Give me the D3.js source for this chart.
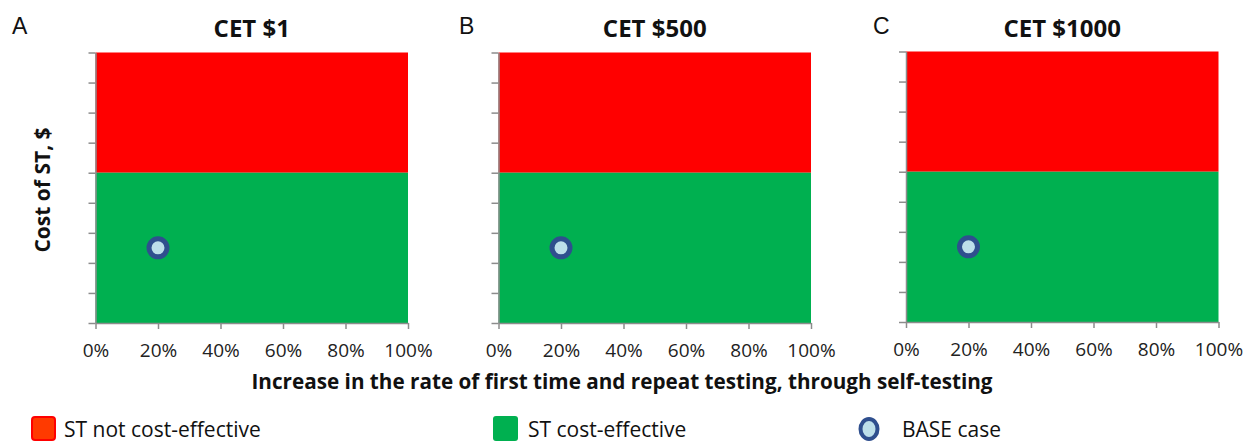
<!DOCTYPE html>
<html>
<head>
<meta charset="utf-8">
<script src="https://cdn.jsdelivr.net/npm/d3@7"></script>
<style>
  html, body { margin: 0; padding: 0; background: #fff; }
  svg { display: block; }
</style>
</head>
<body>
<svg id="chart" width="1245" height="443"></svg>
<script>
// ---- data ----
const panelLetters = ["A", "B", "C"];
const panelTitles = ["CET $1", "CET $500", "CET $1000"];
const xTicks = [0, 0.2, 0.4, 0.6, 0.8, 1.0];
const yTicks = [0, 1, 2, 3, 4, 5, 6, 7, 8, 9];   // unlabelled cost ticks
const yMax = [9, 9, 9];
const costEffectiveUpTo = [5, 5, 5];               // green region top (cost units)
const baseCaseX = [0.2, 0.2, 0.2];
const baseCaseY = [2.5, 2.5, 2.5];
const legendLabels = ["ST not cost-effective", "ST cost-effective", "BASE case"];
const xAxisTitle = "Increase in the rate of first time and repeat testing, through self-testing";
const yAxisTitle = "Cost of ST, $";

// ---- layout / style ----
const layout = {
  lefts: [95.5, 498.5, 906],
  tops: [52.5, 52.5, 51.5],
  letterX: [12, 459, 873],
  width: 312.5,
  height: 270.5
};
const RED = "#ff0000", GREEN = "#00b050", AXIS = "#8c8c8c";
const DOT_FILL = "#bddfea", DOT_STROKE = "#2f4f8e";

const svg = d3.select("#chart");

panelLetters.forEach((letter, i) => {
  const left = layout.lefts[i], top = layout.tops[i];
  const x = d3.scaleLinear().domain([0, 1]).range([left, left + layout.width]);
  const y = d3.scaleLinear().domain([0, yMax[i]]).range([top + layout.height, top]);
  const g = svg.append("g");

  // regions
  g.append("rect")
    .attr("x", x(0)).attr("y", y(yMax[i]))
    .attr("width", x(1) - x(0)).attr("height", y(costEffectiveUpTo[i]) - y(yMax[i]))
    .attr("fill", RED);
  g.append("rect")
    .attr("x", x(0)).attr("y", y(costEffectiveUpTo[i]))
    .attr("width", x(1) - x(0)).attr("height", y(0) - y(costEffectiveUpTo[i]))
    .attr("fill", GREEN);

  // axes
  const ya = g.append("g")
    .attr("transform", `translate(${x(0)},0)`)
    .call(d3.axisLeft(y).tickValues(yTicks).tickFormat("").tickSize(7).tickSizeOuter(0));
  const xa = g.append("g")
    .attr("transform", `translate(0,${y(0)})`)
    .call(d3.axisBottom(x).tickValues(xTicks).tickFormat(d3.format(".0%"))
      .tickSize(6).tickSizeOuter(0).tickPadding(15));
  [ya, xa].forEach(a => {
    a.select(".domain").attr("stroke", AXIS).attr("stroke-width", 1.5);
    a.selectAll(".tick line").attr("stroke", AXIS).attr("stroke-width", 1.5);
  });
  xa.selectAll(".tick text")
    .attr("fill", "#222")
    .style("font-family", "'Open Sans', sans-serif")
    .style("font-size", "19px");

  // base case point
  g.append("circle")
    .attr("cx", x(baseCaseX[i])).attr("cy", y(baseCaseY[i]))
    .attr("r", 9)
    .attr("fill", DOT_FILL)
    .attr("stroke", DOT_STROKE)
    .attr("stroke-width", 5);

  // title
  g.append("text")
    .attr("x", (x(0) + x(1)) / 2).attr("y", 37)
    .attr("text-anchor", "middle")
    .style("font-family", "'Open Sans', sans-serif")
    .style("font-weight", "bold")
    .style("font-size", "24px")
    .attr("fill", "#111")
    .text(panelTitles[i]);

  // panel letter
  g.append("text")
    .attr("x", layout.letterX[i]).attr("y", 34)
    .style("font-family", "'Liberation Sans', Arial, sans-serif")
    .style("font-size", "23px")
    .attr("fill", "#111")
    .text(letter);
});

// axis titles
svg.append("text")
  .attr("x", 622).attr("y", 389)
  .attr("text-anchor", "middle")
  .style("font-family", "'Open Sans', sans-serif")
  .style("font-weight", "bold")
  .style("font-size", "20.7px")
  .attr("fill", "#111")
  .text(xAxisTitle);

svg.append("text")
  .attr("transform", "translate(50,190) rotate(-90)")
  .attr("text-anchor", "middle")
  .style("font-family", "'Open Sans', sans-serif")
  .style("font-weight", "bold")
  .style("font-size", "21px")
  .attr("fill", "#111")
  .text(yAxisTitle);

// legend
const legend = svg.append("g");
const legendX = [31, 493, 858];
const legendTextX = [64, 528, 902];
legendLabels.forEach((lab, i) => {
  if (i === 0) {
    legend.append("rect").attr("x", legendX[i] + 1).attr("y", 417).attr("width", 23).attr("height", 23)
      .attr("rx", 3).attr("fill", "#ff3a00").attr("stroke", RED).attr("stroke-width", 2);
  } else if (i === 1) {
    legend.append("rect").attr("x", legendX[i]).attr("y", 416).attr("width", 25).attr("height", 25)
      .attr("rx", 3).attr("fill", GREEN);
  } else {
    legend.append("ellipse").attr("cx", legendX[i] + 11).attr("cy", 429)
      .attr("rx", 8.5).attr("ry", 10)
      .attr("fill", DOT_FILL).attr("stroke", DOT_STROKE).attr("stroke-width", 4);
  }
  legend.append("text")
    .attr("x", legendTextX[i]).attr("y", 437)
    .style("font-family", "'Open Sans', sans-serif")
    .style("font-size", "21px")
    .attr("fill", "#111")
    .text(lab);
});
</script>
</body>
</html>
